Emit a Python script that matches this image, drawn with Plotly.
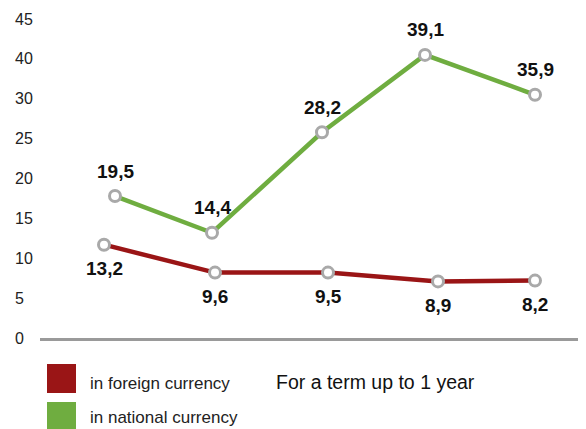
import plotly.graph_objects as go

# ---- data ----
series_names = ["in foreign currency", "in national currency"]
foreign_x = [0.64, 1.75, 2.88, 3.98, 4.95]
foreign_y = [11.7, 8.2, 8.2, 7.1, 7.2]
foreign_labels = ["13,2", "9,6", "9,5", "8,9", "8,2"]
national_x = [0.75, 1.72, 2.82, 3.85, 4.95]
national_y = [17.8, 13.2, 25.8, 35.5, 30.5]
national_labels = ["19,5", "14,4", "28,2", "39,1", "35,9"]
tick_vals = [0, 5, 10, 15, 20, 25, 30, 35, 40]
tick_text = ["0", "5", "10", "15", "20", "25", "30", "40", "45"]
note_text = "For a term up to 1 year"

RED = "#9a1516"
GREEN = "#6fad40"
GREY = "#a9a9a9"

OFF = 8  # page body margin of the html page
W, H = 586 - OFF, 429 - OFF
ML, MR, MT, MB = 14 - OFF, 0, 19 - OFF, 91
PW, PH = W - ML - MR, H - MT - MB


def px(x):
    return (x - OFF - ML) / PW


def py(y):
    return (H - MB - (y - OFF)) / PH


fig = go.Figure()
label_font = dict(family="Liberation Sans, Arial, sans-serif", size=19, color="#111111")
annotations = []
for xs, ys, labs, col, shift in [
    (foreign_x, foreign_y, foreign_labels, RED, -24),
    (national_x, national_y, national_labels, GREEN, 25),
]:
    fig.add_trace(go.Scatter(
        x=xs, y=ys, mode="lines+markers",
        line=dict(color=col, width=4.5),
        marker=dict(size=11, color="white", line=dict(color=GREY, width=3)),
        cliponaxis=False, showlegend=False,
    ))
    for xv, yv, t in zip(xs, ys, labs):
        annotations.append(dict(x=xv, y=yv, xref="x", yref="y", text=f"<b>{t}</b>",
                                showarrow=False, yshift=shift, font=label_font,
                                xanchor="center", yanchor="middle"))

# custom legend
legend_font = dict(family="Liberation Sans, Arial, sans-serif", size=17, color="#222222")
shapes = []
legend_tops = [364, 402]
text_centers = [383, 417]
for name, col, top, tc in zip(series_names, [RED, GREEN], legend_tops, text_centers):
    shapes.append(dict(type="rect", xref="paper", yref="paper",
                       x0=px(47), x1=px(76), y0=py(top + 29), y1=py(top),
                       fillcolor=col, line=dict(width=0)))
    annotations.append(dict(xref="paper", yref="paper", x=px(88), y=py(tc),
                            text=name, showarrow=False, xanchor="left", yanchor="middle",
                            font=legend_font))
annotations.append(dict(xref="paper", yref="paper", x=px(274), y=py(382),
                        text=note_text, showarrow=False, xanchor="left", yanchor="middle",
                        font=dict(family="Liberation Sans, Arial, sans-serif",
                                  size=19.5, color="#111111")))

fig.update_layout(
    width=W, height=H, margin=dict(l=ML, r=MR, t=MT, b=MB),
    paper_bgcolor="white", plot_bgcolor="white",
    shapes=shapes, annotations=annotations,
    xaxis=dict(range=[0, 5.46], domain=[px(40), 1], showgrid=False, zeroline=False,
               showticklabels=False, ticks="", showline=True, linecolor="#9a9a9a", linewidth=3),
    yaxis=dict(range=[0, 40], anchor="free", position=0, side="right",
               tickvals=tick_vals, ticktext=tick_text, showgrid=False, zeroline=False,
               showline=False, ticks="",
               tickfont=dict(family="Liberation Sans, Arial, sans-serif", size=16, color="#222222")),
)

fig.write_html("out.html")
